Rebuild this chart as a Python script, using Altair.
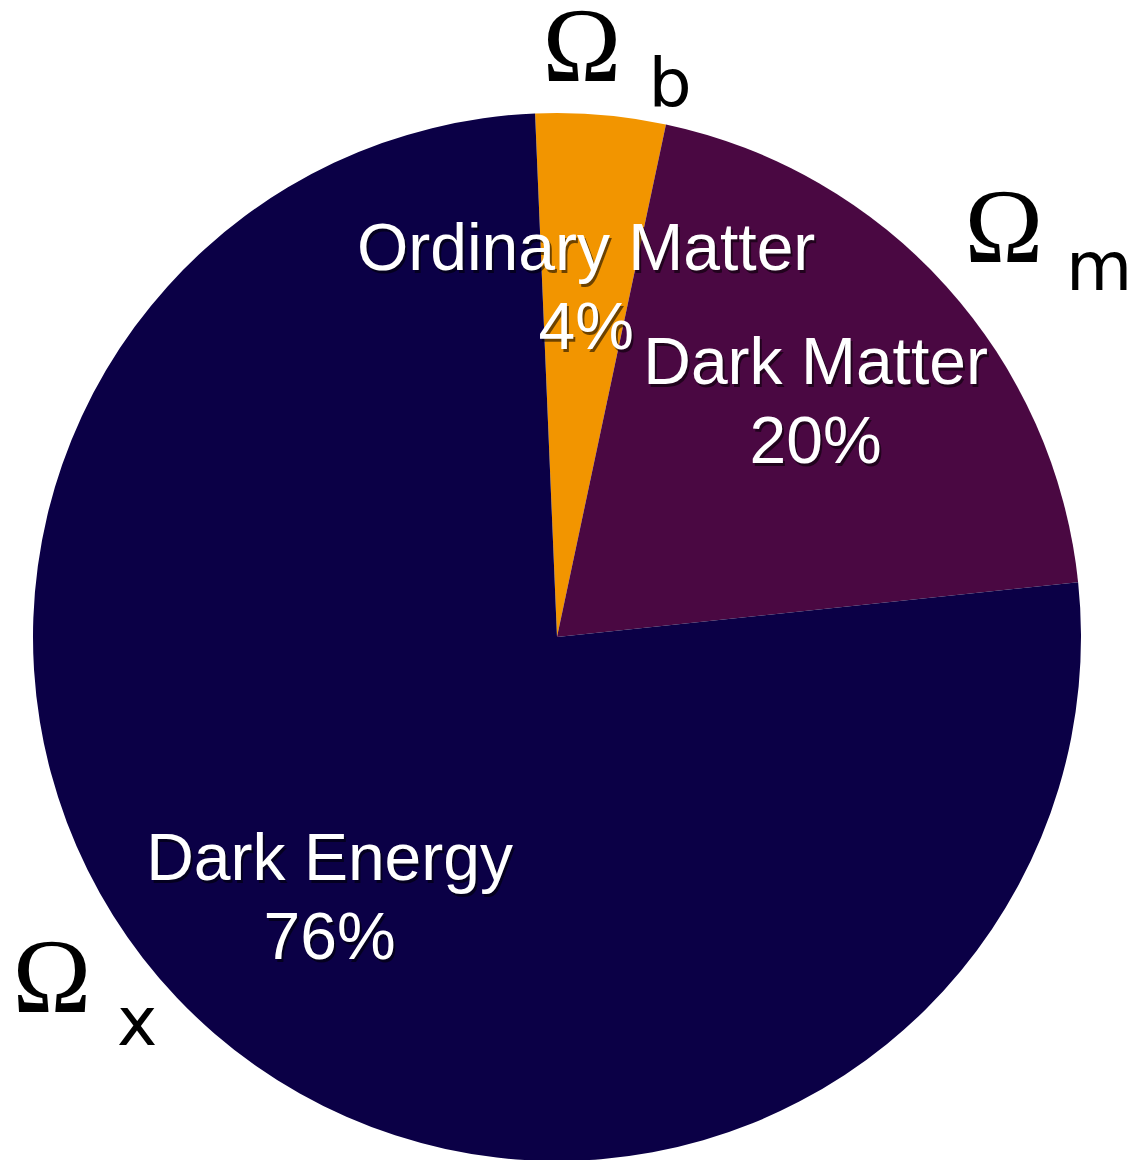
import math
import altair as alt
import pandas as pd

# ---- data ----
components = ["Ordinary Matter", "Dark Matter", "Dark Energy"]
shares = [4, 20, 76]
pct_labels = ["4%", "20%", "76%"]
colors = ["#F29500", "#4A0842", "#0B0046"]
omega_subs = ["b", "m", "x"]

df = pd.DataFrame({
    "component": components,
    "share": shares,
    "order": list(range(len(components))),
    "label": [f"{c}\n{p}" for c, p in zip(components, pct_labels)],
})

W, H = 1129, 1160
CX, CY, R = 557, 637, 524
start = math.radians(-2.4)

theta = alt.Theta("share:Q", stack=True,
                  scale=alt.Scale(domain=[0, 100], range=[start, start + 2 * math.pi]))
order = alt.Order("order:Q")

base = alt.Chart(df).encode(theta=theta, order=order,
                            x=alt.value(CX), y=alt.value(CY))

pie = base.mark_arc(outerRadius=R, innerRadius=0, stroke=None).encode(
    color=alt.Color("component:N", scale=alt.Scale(domain=components, range=colors),
                    legend=None)
)

label_style = dict(radius=348, font="Liberation Sans", fontSize=66, lineBreak="\n",
                   lineHeight=79, align="center", baseline="middle")
shadow = base.mark_text(fill="#000000", opacity=0.55, dx=2, dy=-37, **label_style).encode(
    text="label:N")
labels = base.mark_text(fill="#FFFFFF", dy=-40, **label_style).encode(text="label:N")


def omega(x, y, sub, sx, sy):
    om = alt.Chart(pd.DataFrame({"t": ["Ω"]})).mark_text(
        font="Liberation Serif", fontSize=106, align="center", baseline="alphabetic",
        color="black").encode(text="t:N", x=alt.value(x), y=alt.value(y))
    sb = alt.Chart(pd.DataFrame({"t": [sub]})).mark_text(
        font="DejaVu Sans", fontSize=68, align="center", baseline="alphabetic",
        color="black").encode(text="t:N", x=alt.value(sx), y=alt.value(sy))
    return om + sb


ann_b = omega(582, 81, omega_subs[0], 670, 107)
ann_m = omega(1004, 262, omega_subs[1], 1099, 290)
ann_x = omega(52, 1012, omega_subs[2], 137, 1045)

chart = alt.layer(pie, shadow, labels, ann_b, ann_m, ann_x).properties(
    width=W, height=H, padding=0, autosize=alt.AutoSizeParams(type="none")
).configure_view(stroke=None)

chart.save("out.html", embed_options={"renderer": "svg", "actions": False})
